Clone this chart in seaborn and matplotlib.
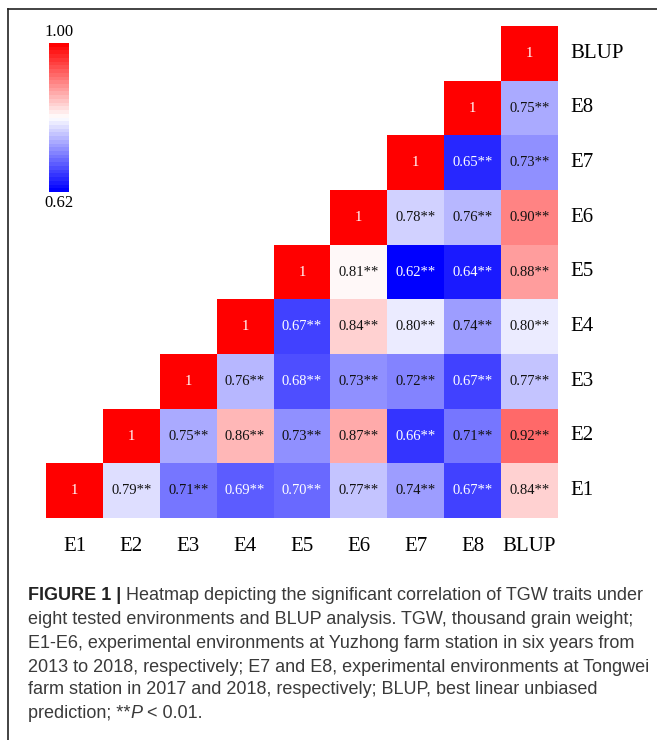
import numpy as np
import pandas as pd
import matplotlib
matplotlib.use("Agg")
import matplotlib.pyplot as plt
from matplotlib.colors import LinearSegmentedColormap
from matplotlib.lines import Line2D
import seaborn as sns

# Data: upper triangle of the correlation matrix, row by row (diagonal first)
envs = ["E1", "E2", "E3", "E4", "E5", "E6", "E7", "E8", "BLUP"]
row_E1 = [1, 0.79, 0.71, 0.69, 0.70, 0.77, 0.74, 0.67, 0.84]
row_E2 = [1, 0.75, 0.86, 0.73, 0.87, 0.66, 0.71, 0.92]
row_E3 = [1, 0.76, 0.68, 0.73, 0.72, 0.67, 0.77]
row_E4 = [1, 0.67, 0.84, 0.80, 0.74, 0.80]
row_E5 = [1, 0.81, 0.62, 0.64, 0.88]
row_E6 = [1, 0.78, 0.76, 0.90]
row_E7 = [1, 0.65, 0.73]
row_E8 = [1, 0.75]
row_BLUP = [1]
rows = [row_E1, row_E2, row_E3, row_E4, row_E5, row_E6, row_E7, row_E8, row_BLUP]

vmin, vmax = 0.62, 1.00

n = len(envs)
mat = np.full((n, n), np.nan)
for i, r in enumerate(rows):
    mat[i, i:] = r
df = pd.DataFrame(mat, index=envs, columns=envs).iloc[::-1]

labels = df.map(lambda v: "" if np.isnan(v) else ("1" if v == 1 else f"{v:.2f}**"))
mask = df.isna()

cmap = LinearSegmentedColormap.from_list(
    "bwr_custom",
    [(0.0, "#0000ff"), ((0.81 - vmin) / (vmax - vmin), "#ffffff"), (1.0, "#ff0000")],
    N=40,
)

W, H = 657, 740
fig = plt.figure(figsize=(W / 100, H / 100), dpi=100)
ax = fig.add_axes([46 / W, 1 - 518 / H, 512 / W, 492 / H])
cax = fig.add_axes([49 / W, 1 - 192 / H, 20 / W, 149 / H])

serif = ["Liberation Serif", "DejaVu Serif"]
sans = ["Liberation Sans", "DejaVu Sans"]

sns.heatmap(df, mask=mask, cmap=cmap, vmin=vmin, vmax=vmax, ax=ax, cbar_ax=cax,
            annot=False, linewidths=0, square=False)

# annotations (white text on dark cells)
for i in range(n):
    for j in range(n):
        v = df.iat[i, j]
        if np.isnan(v):
            continue
        col = "white" if (v == 1 or v <= 0.70) else "#111111"
        ax.text(j + 0.5, i + 0.5, labels.iat[i, j], ha="center", va="center",
                fontsize=10.5, color=col, family=serif)

ax.yaxis.tick_right()
ax.set_yticklabels(df.index, rotation=0, fontsize=15, family=serif, va="center")
ax.set_xticklabels(df.columns, rotation=0, fontsize=15, family=serif)
ax.tick_params(axis="both", length=0)
ax.tick_params(axis="y", pad=9)
ax.tick_params(axis="x", pad=14)
ax.set_xlabel("")
ax.set_ylabel("")

cax.set_yticks([])
cax.set_xticks([])
for s in cax.spines.values():
    s.set_visible(False)
fig.text(59 / W, 1 - 32 / H, "1.00", ha="center", va="center", fontsize=12, family=serif)
fig.text(59 / W, 1 - 203 / H, "0.62", ha="center", va="center", fontsize=12, family=serif)

# frame lines (top and left)
fig.add_artist(Line2D([8 / W, 1], [1 - 9 / H, 1 - 9 / H], color="#222222", lw=1.2, transform=fig.transFigure))
fig.add_artist(Line2D([8 / W, 8 / W], [1 - 9 / H, 0], color="#222222", lw=1.2, transform=fig.transFigure))

# caption
cap_col = "#3a3a3a"
cap_fs = 13.0
x0 = 28 / W
line_y = [596, 620, 643, 667, 690, 713]
t0 = fig.text(x0, 1 - line_y[0] / H, "FIGURE 1 | ", fontsize=cap_fs, family=sans,
              weight="bold", color="#222222", va="center")
fig.canvas.draw()
bb = t0.get_window_extent()
fig.text(bb.x1 / W, 1 - line_y[0] / H,
         "Heatmap depicting the significant correlation of TGW traits under",
         fontsize=cap_fs, family=sans, color=cap_col, va="center")
cap_lines = [
    "eight tested environments and BLUP analysis. TGW, thousand grain weight;",
    "E1-E6, experimental environments at Yuzhong farm station in six years from",
    "2013 to 2018, respectively; E7 and E8, experimental environments at Tongwei",
    "farm station in 2017 and 2018, respectively; BLUP, best linear unbiased",
]
for y, s in zip(line_y[1:5], cap_lines):
    fig.text(x0, 1 - y / H, s, fontsize=cap_fs, family=sans, color=cap_col, va="center")

t1 = fig.text(x0, 1 - line_y[5] / H, "prediction; **", fontsize=cap_fs, family=sans,
              color=cap_col, va="center")
fig.canvas.draw()
bb1 = t1.get_window_extent()
t2 = fig.text(bb1.x1 / W, 1 - line_y[5] / H, "P", fontsize=cap_fs, family=sans,
              style="italic", color=cap_col, va="center")
fig.canvas.draw()
bb2 = t2.get_window_extent()
fig.text(bb2.x1 / W, 1 - line_y[5] / H, " < 0.01.", fontsize=cap_fs, family=sans,
         color=cap_col, va="center")

fig.savefig("out.png", dpi=100)
